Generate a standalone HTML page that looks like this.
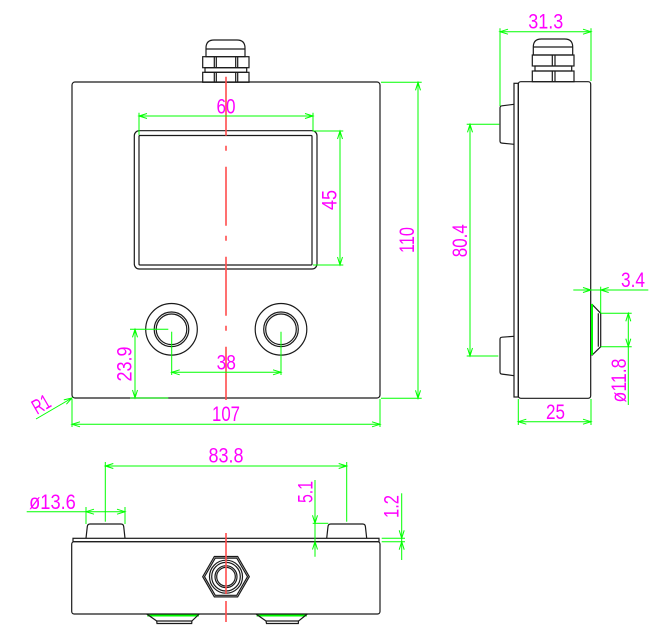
<!DOCTYPE html>
<html><head><meta charset="utf-8"><style>
html,body{margin:0;padding:0;background:#fff;}
svg{display:block;}
text{font-family:"Liberation Sans",sans-serif;font-size:21px;fill:#ff00ff;}
</style></head><body>
<svg width="672" height="641" viewBox="0 0 672 641" xmlns="http://www.w3.org/2000/svg">
<!-- ============ FRONT VIEW ============ -->
<g fill="none" stroke="#1a1a1a" stroke-width="1.2">
  <rect x="72" y="82" width="308" height="316" rx="3"/>
  <rect x="134.3" y="130.7" width="182.7" height="138.3" rx="5"/>
  <rect x="139" y="135.5" width="173" height="129.5" rx="1"/>
  <!-- gland -->
  <path d="M206,56.7 V48 Q206,40 214,40 H237 Q245,40 245,48 V56.7 Z"/>
  <line x1="206" y1="49" x2="245" y2="49"/>
  <rect x="202.7" y="56.7" width="46.3" height="11"/>
  <rect x="205" y="67.7" width="41.7" height="4.6"/>
  <rect x="202.7" y="72.3" width="46.3" height="10"/>
  <path d="M214.3,56.7V67.7M216.3,56.7V67.7M235.7,56.7V67.7M237.7,56.7V67.7M214.3,72.3V82.3M216.3,72.3V82.3M235.7,72.3V82.3M237.7,72.3V82.3"/>
  <!-- buttons -->
  <circle cx="171.5" cy="329.3" r="25.8"/>
  <circle cx="171.5" cy="329.3" r="17.3"/>
  <circle cx="171.5" cy="329.3" r="15.3"/>
  <circle cx="281" cy="329.3" r="25.8"/>
  <circle cx="281" cy="329.3" r="17.3"/>
  <circle cx="281" cy="329.3" r="15.3"/>
</g>
<line x1="226" y1="76.7" x2="226" y2="400" stroke="#ff4d4d" stroke-width="1.6" stroke-dasharray="59 10 5 16"/>

<g fill="none" stroke="#00ff00" stroke-width="1">
  <!-- 60 -->
  <line x1="139" y1="116" x2="313" y2="116"/>
  <line x1="139" y1="112.7" x2="139" y2="135"/>
  <line x1="313" y1="112.7" x2="313" y2="131"/>
  <polyline points="147,113.5 139,116 147,118.5"/>
  <polyline points="305,113.5 313,116 305,118.5"/>
  <!-- 45 -->
  <line x1="340" y1="131" x2="340" y2="265"/>
  <line x1="313" y1="131" x2="343.3" y2="131"/>
  <line x1="313" y1="265" x2="343.3" y2="265"/>
  <polyline points="337.5,139 340,131 342.5,139"/>
  <polyline points="337.5,257 340,265 342.5,257"/>
  <!-- 110 -->
  <line x1="418" y1="82.3" x2="418" y2="398.3"/>
  <line x1="381" y1="82.3" x2="421.7" y2="82.3"/>
  <line x1="381" y1="398.3" x2="421.7" y2="398.3"/>
  <polyline points="415.5,90.3 418,82.3 420.5,90.3"/>
  <polyline points="415.5,390.3 418,398.3 420.5,390.3"/>
  <!-- 107 -->
  <line x1="72" y1="424.3" x2="380" y2="424.3"/>
  <line x1="72" y1="399" x2="72" y2="427"/>
  <line x1="380" y1="399" x2="380" y2="427"/>
  <polyline points="80,421.8 72,424.3 80,426.8"/>
  <polyline points="372,421.8 380,424.3 372,426.8"/>
  <!-- 38 -->
  <line x1="171.7" y1="372.3" x2="281" y2="372.3"/>
  <line x1="171.7" y1="331.7" x2="171.7" y2="375"/>
  <line x1="281" y1="331.7" x2="281" y2="375"/>
  <polyline points="179.7,369.8 171.7,372.3 179.7,374.8"/>
  <polyline points="273,369.8 281,372.3 273,374.8"/>
  <!-- 23.9 -->
  <line x1="135" y1="329.3" x2="135" y2="398"/>
  <line x1="130" y1="329.3" x2="168.3" y2="329.3"/>
  <line x1="130" y1="398" x2="168.3" y2="398"/>
  <polyline points="132.5,337.3 135,329.3 137.5,337.3"/>
  <polyline points="132.5,390 135,398 137.5,390"/>
  <!-- R1 -->
  <line x1="36" y1="419" x2="72" y2="398"/>
  <polyline points="66.4,404.2 72,398 63.8,399.9"/>
</g>
<text x="226" y="113.5" text-anchor="middle" textLength="19" lengthAdjust="spacingAndGlyphs">60</text>
<text x="329" y="207.5" text-anchor="middle" textLength="20" lengthAdjust="spacingAndGlyphs" transform="rotate(-90 329 200)">45</text>
<text x="406.7" y="247.5" text-anchor="middle" textLength="26" lengthAdjust="spacingAndGlyphs" transform="rotate(-90 406.7 240)">110</text>
<text x="226" y="420.8" text-anchor="middle" textLength="28" lengthAdjust="spacingAndGlyphs">107</text>
<text x="226.3" y="369.5" text-anchor="middle" textLength="19.3" lengthAdjust="spacingAndGlyphs">38</text>
<text x="124" y="371.5" text-anchor="middle" textLength="35" lengthAdjust="spacingAndGlyphs" transform="rotate(-90 124 364)">23.9</text>
<text x="41" y="411.5" text-anchor="middle" textLength="18" lengthAdjust="spacingAndGlyphs" transform="rotate(-30 41 404)">R1</text>

<!-- ============ SIDE VIEW ============ -->
<g fill="none" stroke="#1a1a1a" stroke-width="1.2">
  <rect x="518.3" y="81.7" width="72.4" height="316.6" rx="2.5"/>
  <rect x="514" y="83.3" width="4.3" height="313.7"/>
  <path d="M533.3,55 V47 Q533.3,39 541.3,39 H564.7 Q572.7,39 572.7,47 V55 Z"/>
  <line x1="533.3" y1="47" x2="572.7" y2="47"/>
  <rect x="532.3" y="55" width="41.7" height="11"/>
  <rect x="535" y="66" width="36.7" height="5"/>
  <rect x="532.3" y="71" width="41.7" height="10.7"/>
  <path d="M552.3,55V66M555,55V66M552.3,71V81.7M555,71V81.7"/>
  <path d="M514,104.3 L502,105.8 Q500,106 500,108 V141 Q500,143 502,143.1 L514,144.3"/>
  <path d="M514,336.3 L502,337.2 Q500,337.3 500,339.3 V372 Q500,374 502,374.1 L514,375.7"/>
  <path d="M591.7,304 L600.7,313.3 V346.7 L591.7,355.5"/>
  <line x1="598.3" y1="313.3" x2="598.3" y2="346.7"/>
</g>
<line x1="592" y1="304" x2="592" y2="355" stroke="#00ff00" stroke-width="2"/>
<g fill="none" stroke="#00ff00" stroke-width="1">
  <!-- 31.3 -->
  <line x1="500" y1="31.7" x2="591" y2="31.7"/>
  <line x1="500" y1="28.3" x2="500" y2="106"/>
  <line x1="591" y1="28.3" x2="591" y2="81"/>
  <polyline points="508,29.2 500,31.7 508,34.2"/>
  <polyline points="583,29.2 591,31.7 583,34.2"/>
  <!-- 80.4 -->
  <line x1="470" y1="124.3" x2="470" y2="356"/>
  <line x1="466.7" y1="124.3" x2="499.3" y2="124.3"/>
  <line x1="466.7" y1="356" x2="498.3" y2="356"/>
  <polyline points="467.5,132.3 470,124.3 472.5,132.3"/>
  <polyline points="467.5,348 470,356 472.5,348"/>
  <!-- 25 -->
  <line x1="518.3" y1="421.7" x2="591" y2="421.7"/>
  <line x1="518.3" y1="399" x2="518.3" y2="425"/>
  <line x1="591" y1="399" x2="591" y2="425"/>
  <polyline points="526.3,419.2 518.3,421.7 526.3,424.2"/>
  <polyline points="583,419.2 591,421.7 583,424.2"/>
  <!-- 3.4 -->
  <line x1="573.3" y1="290" x2="648.3" y2="290"/>
  <line x1="600.7" y1="286.7" x2="600.7" y2="313.3"/>
  <polyline points="583,287.5 591,290 583,292.5"/>
  <polyline points="608.7,287.5 600.7,290 608.7,292.5"/>
  <!-- ø11.8 -->
  <line x1="628.3" y1="313.3" x2="628.3" y2="405"/>
  <line x1="600.7" y1="313.3" x2="631.7" y2="313.3"/>
  <line x1="600.7" y1="346.7" x2="631.7" y2="346.7"/>
  <polyline points="625.8,321.3 628.3,313.3 630.8,321.3"/>
  <polyline points="625.8,338.7 628.3,346.7 630.8,338.7"/>
</g>
<text x="545.8" y="28.5" text-anchor="middle" textLength="35" lengthAdjust="spacingAndGlyphs">31.3</text>
<text x="459.3" y="248.2" text-anchor="middle" textLength="33" lengthAdjust="spacingAndGlyphs" transform="rotate(-90 459.3 240.7)">80.4</text>
<text x="555.5" y="418.8" text-anchor="middle" textLength="19" lengthAdjust="spacingAndGlyphs">25</text>
<text x="633" y="287" text-anchor="middle" textLength="24" lengthAdjust="spacingAndGlyphs">3.4</text>
<text x="618.3" y="388" text-anchor="middle" textLength="44" lengthAdjust="spacingAndGlyphs" transform="rotate(-90 618.3 380.5)">ø11.8</text>

<!-- ============ BOTTOM VIEW ============ -->
<rect x="147.3" y="614" width="51.5" height="2.5" fill="#00ff00"/>
<rect x="256.6" y="614" width="50.2" height="2.5" fill="#00ff00"/>
<g fill="none" stroke="#1a1a1a" stroke-width="1.2">
  <rect x="71.7" y="541.7" width="308.3" height="72.3" rx="2.5"/>
  <rect x="73" y="538.3" width="306" height="3.4"/>
  <path d="M86,538.3 L87.3,526.5 Q87.6,524 90,524 H121 Q123.4,524 123.7,526.5 L125,538.3"/>
  <path d="M326.7,538.3 L328,526.5 Q328.3,524 330.7,524 H362.7 Q365.1,524 365.4,526.5 L366.7,538.3"/>
  <path d="M146.7,614 L156.7,621 L157,623.5 H191.7 L191.9,621 L199.3,614"/>
  <line x1="156.7" y1="621" x2="191.9" y2="621"/>
  <path d="M256,614 L266,621 L266.5,623.5 H298.3 L298.5,621 L307.3,614"/>
  <line x1="266" y1="621" x2="298.5" y2="621"/>
  <polygon points="249.3,576.7 237.65,556.5 214.35,556.5 202.7,576.7 214.35,596.9 237.65,596.9"/>
  <polygon points="247.5,576.7 236.75,558.1 215.25,558.1 204.5,576.7 215.25,595.3 236.75,595.3"/>
  <circle cx="226" cy="576.7" r="16.5"/>
  <circle cx="226" cy="576.7" r="14.3"/>
  <circle cx="226" cy="576.7" r="11"/>
  <circle cx="226" cy="576.7" r="9.3"/>
</g>
<line x1="226" y1="533" x2="226" y2="594" stroke="#ff4d4d" stroke-width="1.6"/>
<line x1="226" y1="601" x2="226" y2="622" stroke="#ff4d4d" stroke-width="1.6"/>
<g fill="none" stroke="#00ff00" stroke-width="1">
  <!-- 83.8 -->
  <line x1="105.3" y1="466" x2="346.7" y2="466"/>
  <line x1="105.3" y1="462" x2="105.3" y2="521.7"/>
  <line x1="346.7" y1="462" x2="346.7" y2="521.7"/>
  <polyline points="113.3,463.5 105.3,466 113.3,468.5"/>
  <polyline points="338.7,463.5 346.7,466 338.7,468.5"/>
  <!-- ø13.6 -->
  <line x1="26.7" y1="511.7" x2="125" y2="511.7"/>
  <line x1="86" y1="507" x2="86" y2="524"/>
  <line x1="125" y1="507" x2="125" y2="524"/>
  <polyline points="94,509.2 86,511.7 94,514.2"/>
  <polyline points="117,509.2 125,511.7 117,514.2"/>
  <!-- 5.1 -->
  <line x1="315" y1="480" x2="315" y2="556.7"/>
  <line x1="312.7" y1="523.3" x2="328.3" y2="523.3"/>
  <polyline points="312.5,515.3 315,523.3 317.5,515.3"/>
  <polyline points="312.5,549.5 315,541.5 317.5,549.5"/>
  <!-- 1.2 -->
  <line x1="401.7" y1="493.3" x2="401.7" y2="560"/>
  <line x1="381.7" y1="538.3" x2="405" y2="538.3"/>
  <line x1="381.7" y1="541.7" x2="405" y2="541.7"/>
  <polyline points="399.2,530.3 401.7,538.3 404.2,530.3"/>
  <polyline points="399.2,549.7 401.7,541.7 404.2,549.7"/>
</g>
<text x="226" y="462.5" text-anchor="middle" textLength="35" lengthAdjust="spacingAndGlyphs">83.8</text>
<text x="52.5" y="509" text-anchor="middle" textLength="46.7" lengthAdjust="spacingAndGlyphs">ø13.6</text>
<text x="305" y="499.5" text-anchor="middle" textLength="22" lengthAdjust="spacingAndGlyphs" transform="rotate(-90 305 492)">5.1</text>
<text x="391" y="514" text-anchor="middle" textLength="23" lengthAdjust="spacingAndGlyphs" transform="rotate(-90 391 506.5)">1.2</text>
</svg>
</body></html>
